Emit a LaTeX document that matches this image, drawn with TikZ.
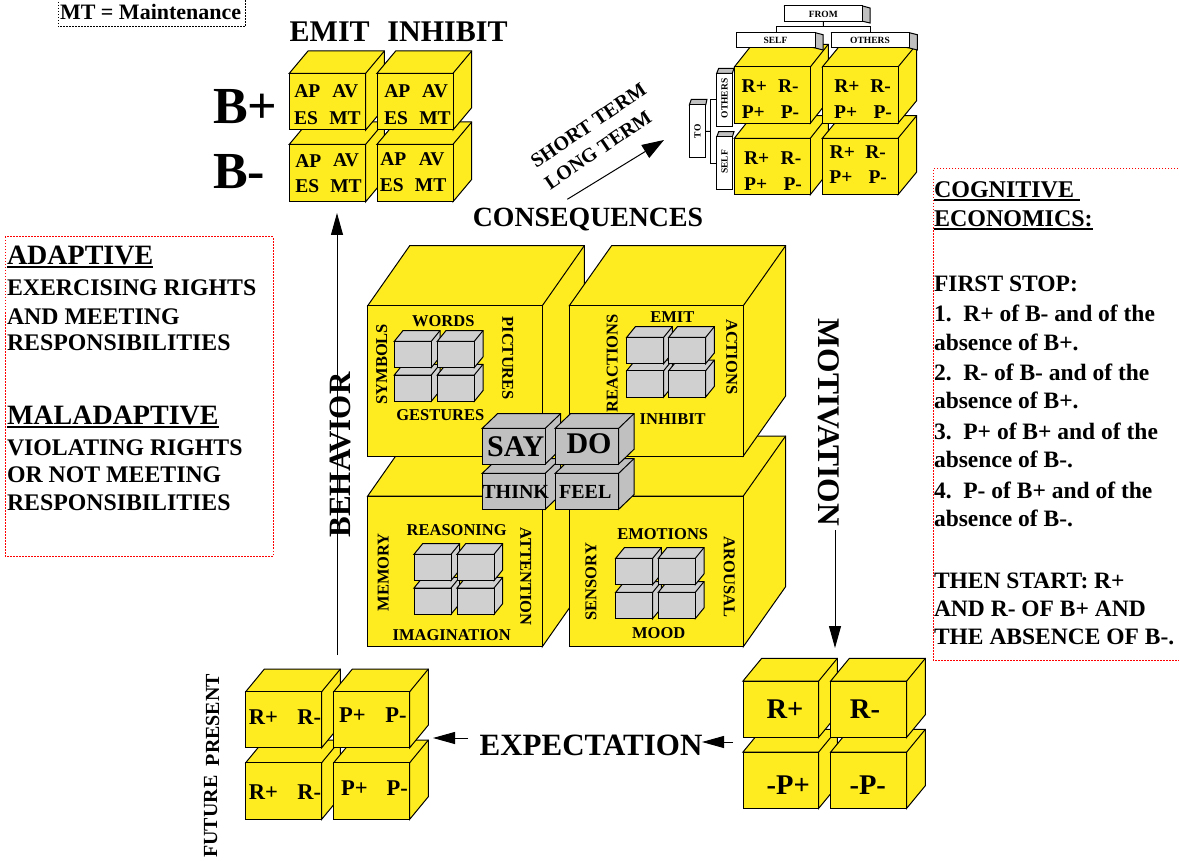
\documentclass[tikz,border=0pt]{standalone}
\usepackage{fontspec}
\setmainfont{Liberation Serif}[BoldFont={* Bold}]
\usetikzlibrary{arrows.meta}
\definecolor{cy}{HTML}{FFEC20}
\definecolor{gs}{HTML}{D0D0D0}
\definecolor{gb}{HTML}{C0C0C0}
\newcounter{lblc}
% #1 options, #2 x, #3 y, #4 size, #5 text
\newcommand{\lbl}[5][]{\stepcounter{lblc}\node[txt,#1,font=\fontsize{#4}{#4}\selectfont\bfseries] (l\arabic{lblc}) at (#2,#3) {#5};}
% x y w h dx dy colour
\newcommand{\cube}[7]{%
 \filldraw[cubeline,fill=#7] (#1,#2) -- ++(#5,-#6) -- ++(#3,0) -- ++(0,#4) -- ++(-#5,#6) -- ++(0,-#4) -- ++(-#3,0) -- cycle;
 \draw[cubeline] (#1+#3,#2) -- ++(#5,-#6);
 \filldraw[cubeline,fill=#7] (#1,#2) rectangle ++(#3,#4);}
\newcommand{\uln}[1]{\setbox0\hbox{#1}\rlap{\rule[-3.5pt]{\wd0}{2pt}}\box0}
% tag box: name, x, y, w, h (top left corner)
\newcommand{\tagbx}[5]{\node[tagbox,minimum width=#4,minimum height=#5] (#1) at (#2+#4/2,#3+#5/2) {};}
\tikzset{
 txt/.style={inner sep=0pt,outer sep=0pt,text=black},
 cubeline/.style={draw=black,line width=1pt,line join=miter},
 tagbox/.style={draw=black,fill=white,line width=1pt,inner sep=0pt,outer sep=0pt},
 note/.style={line width=1pt,dash pattern=on 1.5pt off 1.5pt},
 flow/.style={line width=1pt,-{Triangle[length=22pt,width=12pt]}},
 bigflow/.style={line width=1pt,-{Triangle[length=22pt,width=15pt]}},
 link/.style={line width=1pt},
 up/.style={rotate=90},
 down/.style={rotate=-90},
 line/.style={anchor=base west},
}
\begin{document}
\begin{tikzpicture}[x=1pt,y=-1pt]
\useasboundingbox (0,0) rectangle (1179,861);

% note boxes
\draw[note,black] (58,-1) rectangle (245,27);
\draw[note,red] (5,237) rectangle (273,556);
\draw[note,red] (1190,169) -- (933,169) -- (933,660) -- (1190,660);
\lbl[line]{60}{20}{22}{MT = Maintenance}

% EMIT / INHIBIT block
\cube{289.3}{144.3}{76.4}{57.4}{18.7}{22.3}{cy}
\cube{377}{144.3}{76}{57.4}{18.7}{22.3}{cy}
\cube{289.3}{73.3}{76.4}{56.7}{18.7}{22.3}{cy}
\cube{377}{73.3}{76}{56.7}{18.7}{22.3}{cy}
\lbl{329.7}{31.7}{30}{EMIT}
\lbl{447.5}{31.7}{30}{INHIBIT}
\lbl[line]{213}{124}{52}{B+}
\lbl[line]{213}{189}{52}{B-}
\foreach \t/\x/\y in {AP/307.3/91,AV/345.3/91,ES/306/118.3,MT/345/118.3,
 AP/397.3/91,AV/435/91,ES/396/118.3,MT/435/118.3,
 AP/308.3/160.7,AV/346/160.7,ES/307.3/186,MT/346/186,
 AP/393.3/159,AV/431.7/159,ES/391.7/185,MT/430.7/185}
 {\lbl{\x}{\y}{19.5}{\t}}

% consequences block
\cube{734.3}{138.3}{76}{56.4}{18}{22.7}{cy}
\cube{822.3}{138.3}{75.7}{56.4}{18.7}{22.7}{cy}
\cube{734.3}{67}{76}{56.3}{18}{22.7}{cy}
\cube{822.3}{67}{75.7}{56.3}{18.7}{22.7}{cy}
\foreach \t/\x/\y in {R+/754.3/85.7,R-/788.3/85.7,P+/753.3/112.3,P-/790/112.3,
 R+/847/85.7,R-/880.7/85.7,P+/845.7/112.3,P-/882.7/112.3,
 R+/756.7/158.3,R-/791/158.3,P+/755.7/184,P-/792.7/184,
 R+/842.3/151.7,R-/875.7/151.7,P+/841/176.7,P-/877.7/176.7}
 {\lbl{\x}{\y}{19.5}{\t}}

% FROM / TO tags
\coordinate (fb) at (823.3,26.7);
\coordinate (tb) at (710.7,131.3);
\coordinate (tu) at (710.7,99.3);
\coordinate (td) at (710.7,163.3);
\filldraw[cubeline,fill=gb] (784,6) -- (862.7,6) -- (870,8) -- (870,23) -- (862.7,21.3) -- cycle;
\tagbx{fromtag}{784}{6}{78.7}{15.3}
\filldraw[cubeline,fill=gb] (736.7,32.7) -- (815.3,32.7) -- (823,34.7) -- (823,50) -- (815.3,48) -- cycle;
\filldraw[cubeline,fill=gb] (831,32.7) -- (909.3,32.7) -- (917.3,34.7) -- (917.3,50) -- (909.3,48) -- cycle;
\tagbx{selftag}{736.7}{32.7}{78.6}{15.3}
\tagbx{otherstag}{831}{32.7}{78.3}{15.3}
\draw[link] (fromtag.south) -- (fb);
\draw[link] (selftag.north) |- (fb) -| (otherstag.north);
\filldraw[cubeline,fill=gb] (689.3,105) -- (691.3,99.3) -- (707,99.3) -- (705.7,105) -- cycle;
\tagbx{totag}{689.3}{105}{16.4}{52.7}
\filldraw[cubeline,fill=gb] (716.7,73.3) -- (718.7,68.3) -- (734,68.3) -- (732.3,73.3) -- cycle;
\tagbx{otherv}{716.7}{73.3}{15.6}{53}
\filldraw[cubeline,fill=gb] (716.7,137) -- (718.7,131.7) -- (734,131.7) -- (732.3,137) -- cycle;
\tagbx{selfv}{716.7}{137}{15.6}{53}
\draw[link] (totag.east) -- (tb);
\draw[link] (otherv.west |- tu) -- (tu) -- (td) -- (selfv.west |- td);
\lbl{823.3}{14.5}{9.5}{FROM}
\lbl{775.5}{40.5}{9.5}{SELF}
\lbl{870}{40.5}{9.5}{OTHERS}
\lbl[up]{697.5}{131.3}{9.5}{TO}
\lbl[up]{724.5}{98.5}{9.5}{OTHERS}
\lbl[up]{724.5}{162}{9.5}{SELF}

\lbl[rotate=34]{588.5}{125.5}{20}{SHORT TERM}
\lbl[rotate=34]{598}{150}{20}{LONG TERM}
\coordinate (ls) at (567.3,199.3);
\coordinate (le) at (664,140);
\draw[bigflow] (ls) -- (le);
\lbl{588}{220}{27.8}{CONSEQUENCES}

% big cubes
\cube{367.7}{496}{174.6}{150.7}{42}{60}{cy}
\cube{569.3}{496}{174}{150.7}{42.3}{60}{cy}
\cube{367.7}{305.7}{174.6}{150.3}{42}{60}{cy}
\cube{569.3}{305.7}{174}{150.3}{42.3}{60}{cy}

% small grey cubes
\foreach \xa/\xb/\ya/\yb in {394.3/437.3/341.3/375, 626.7/668.7/337.3/370.7, 414/457/554.3/588, 615.7/658.3/558.3/592.3}{
 \cube{\xa}{\yb}{37}{26.3}{8.7}{10.7}{gs}
 \cube{\xb}{\yb}{37}{26.3}{8.7}{10.7}{gs}
 \cube{\xa}{\ya}{37}{26.3}{8.7}{10.7}{gs}
 \cube{\xb}{\ya}{37}{26.3}{8.7}{10.7}{gs}
}
\foreach \t/\x/\y in {WORDS/443.3/321,GESTURES/440.3/415,EMIT/672.3/317.3,INHIBIT/672.7/419.3,
 REASONING/456.7/530,IMAGINATION/451.7/635,EMOTIONS/662.7/534,MOOD/658.7/633.3}
 {\lbl{\x}{\y}{16.5}{\t}}
\foreach \t/\x/\y in {SYMBOLS/381.7/364.3,REACTIONS/612.3/363.3,MEMORY/383.3/572.3,SENSORY/591/581.7}
 {\lbl[up]{\x}{\y}{16.5}{\t}}
\foreach \t/\x/\y in {PICTURES/507.7/358.3,ACTIONS/731.7/356.7,ATTENTION/525.7/576.7,AROUSAL/729.3/577.3}
 {\lbl[down]{\x}{\y}{16.5}{\t}}

% centre cubes
\cube{482.3}{473.3}{63}{36}{15.3}{14.7}{gb}
\cube{555.3}{473.3}{63.4}{36}{15.3}{14.7}{gb}
\cube{482.3}{428.3}{63}{35.7}{15.3}{14.7}{gb}
\cube{555.3}{428.3}{63.4}{35.7}{15.3}{14.7}{gb}
\lbl{515.7}{446.7}{30}{SAY}
\lbl{589}{444}{30}{DO}
\lbl{515.7}{492}{20}{THINK}
\lbl{585.3}{492}{20}{FEEL}

% flow labels
\lbl[up]{340}{455}{31}{BEHAVIOR}
\lbl[down]{829}{422.5}{31.5}{MOTIVATION}
\lbl{591}{745}{31}{EXPECTATION}
\coordinate (bs) at (337,655);
\coordinate (be) at (337,213);
\draw[flow] (bs) -- (be);
\coordinate (ms) at (835,530);
\coordinate (me) at (835,648);
\draw[flow] (ms) -- (me);
\coordinate (es) at (468,738);
\coordinate (ee) at (433,738);
\draw[flow] (es) -- (ee);
\coordinate (fs) at (733,742);
\coordinate (fe) at (702,742);
\draw[flow] (fs) -- (fe);

% expectation bottom left
\cube{245.7}{762.7}{76}{56.6}{18.7}{22.7}{cy}
\cube{333.7}{762.7}{76}{56.6}{18.7}{22.7}{cy}
\cube{245.7}{691.7}{76}{56}{18.7}{22.7}{cy}
\cube{333.7}{691.7}{76}{56}{18.7}{22.7}{cy}
\foreach \t/\x/\y in {R+/263.3/716.7,R-/309.3/716.7,P+/352.3/715,P-/396/715,
 R+/263.3/791.7,R-/309.3/791.7,P+/354.3/787.7,P-/397.3/787.7}
 {\lbl{\x}{\y}{22.5}{\t}}
\lbl[up]{212.7}{720}{20}{PRESENT}
\lbl[up]{210.7}{816.7}{20}{FUTURE}

% motivation bottom right
\cube{743}{752}{75.7}{56.3}{18.7}{22.7}{cy}
\cube{830.7}{752}{76}{56.3}{18.7}{22.7}{cy}
\cube{743}{681}{75.7}{56.3}{18.7}{22.7}{cy}
\cube{830.7}{681}{76}{56.3}{18.7}{22.7}{cy}
\lbl{785}{709}{28.5}{R+}
\lbl{865}{709}{28.5}{R-}
\lbl{788.3}{785.3}{28.5}{-P+}
\lbl{867.7}{785.3}{28.5}{-P-}

% left text
\lbl[line]{7}{265}{28}{\uln{ADAPTIVE}}
\lbl[line]{7}{296}{23.8}{EXERCISING RIGHTS}
\lbl[line]{7}{324}{23.8}{AND MEETING}
\lbl[line]{7}{351}{23.8}{RESPONSIBILITIES}
\lbl[line]{7}{424}{28}{\uln{MALADAPTIVE}}
\lbl[line]{7}{455}{23.8}{VIOLATING RIGHTS}
\lbl[line]{7}{482}{23.8}{OR NOT MEETING}
\lbl[line]{7}{510}{23.8}{RESPONSIBILITIES}

% right text
\lbl[line]{934}{198}{24}{\uln{COGNITIVE\ }}
\lbl[line]{934}{227}{24}{\uln{ECONOMICS:}}
\lbl[line]{934}{291}{23.5}{FIRST STOP:}
\lbl[line]{934}{322}{23.5}{1.\ \ R+ of B- and of the}
\lbl[line]{934}{351}{23.5}{absence of B+.}
\lbl[line]{934}{380}{23.5}{2.\ \ R- of B- and of the}
\lbl[line]{934}{408}{23.5}{absence of B+.}
\lbl[line]{934}{439}{23.5}{3.\ \ P+ of B+ and of the}
\lbl[line]{934}{467}{23.5}{absence of B-.}
\lbl[line]{934}{498}{23.5}{4.\ \ P- of B+ and of the}
\lbl[line]{934}{526}{23.5}{absence of B-.}
\lbl[line]{934}{588}{23.5}{THEN START: R+}
\lbl[line]{934}{616}{23.5}{AND R- OF B+ AND}
\lbl[line]{934}{644}{23.5}{THE ABSENCE OF B-.}
\end{tikzpicture}
\end{document}
